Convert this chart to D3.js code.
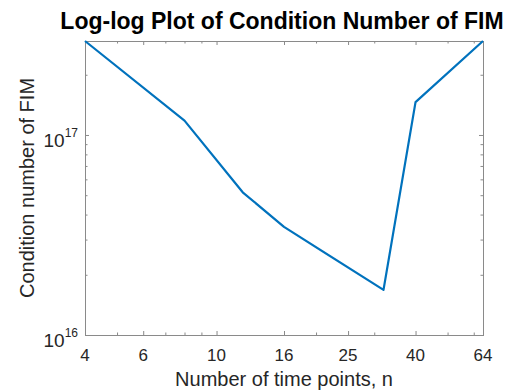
<!DOCTYPE html>
<html>
<head>
<meta charset="utf-8">
<script src="https://cdn.jsdelivr.net/npm/d3@7"></script>
<style>
  html, body { margin: 0; padding: 0; background: #fff; }
  svg { display: block; font-family: "Liberation Sans", Arial, sans-serif; }
</style>
</head>
<body>
<svg id="chart" width="525" height="390"></svg>
<script>
// Number of time points and the condition number of the Fisher information matrix
const timePoints = [4, 8, 12, 16, 32, 40, 64];
const conditionNumbers = [2.95e17, 1.18e17, 5.17e16, 3.47e16, 1.68e16, 1.46e17, 2.95e17];

// Axis ticks
const xMajorTicks = [4, 6, 10, 16, 25, 40, 64];
const xMinorTicks = [5, 7, 8, 9, 20, 30, 50, 60];
const yMajorTicks = [1e16, 1e17];
const yMajorLabels = ["16", "17"];
const yMinorTicks = [2e16, 3e16, 4e16, 5e16, 6e16, 7e16, 8e16, 9e16, 2e17];

const titleText = "Log-log Plot of Condition Number of FIM";
const xLabelText = "Number of time points, n";
const yLabelText = "Condition number of FIM";

const box = { left: 85, right: 483, top: 41, bottom: 335 };
const axisColor = "#8a8a8a";
const lineColor = "#0072BD";

const svg = d3.select("#chart");

const x = d3.scaleLog().domain([4, 64]).range([box.left, box.right]);
const y = d3.scaleLog().domain([1e16, d3.max(conditionNumbers)]).range([box.bottom, box.top]);

// Inward-pointing ticks on all four sides
function styleAxis(g) {
  g.select(".domain").remove();
  g.selectAll(".tick line").attr("stroke", axisColor).attr("stroke-width", 1);
  g.selectAll(".tick text").remove();
}

const sides = [
  { gen: d3.axisBottom, scale: x, pos: `translate(0,${box.bottom})`, major: xMajorTicks, minor: xMinorTicks },
  { gen: d3.axisTop, scale: x, pos: `translate(0,${box.top})`, major: xMajorTicks, minor: xMinorTicks },
  { gen: d3.axisLeft, scale: y, pos: `translate(${box.left},0)`, major: yMajorTicks, minor: yMinorTicks },
  { gen: d3.axisRight, scale: y, pos: `translate(${box.right},0)`, major: yMajorTicks, minor: yMinorTicks }
];
sides.forEach(s => {
  svg.append("g").attr("transform", s.pos)
    .call(s.gen(s.scale).tickValues(s.major).tickSize(-4).tickFormat(""))
    .call(styleAxis);
  svg.append("g").attr("transform", s.pos)
    .call(s.gen(s.scale).tickValues(s.minor).tickSize(-2.5).tickFormat(""))
    .call(styleAxis);
});

// Axes box
svg.append("rect")
  .attr("x", box.left + 0.5).attr("y", box.top + 0.5)
  .attr("width", box.right - box.left).attr("height", box.bottom - box.top)
  .attr("fill", "none").attr("stroke", axisColor).attr("stroke-width", 1);

// X tick labels
svg.append("g").selectAll("text")
  .data(xMajorTicks).join("text")
  .attr("x", d => x(d))
  .attr("y", box.bottom + 26)
  .attr("text-anchor", "middle")
  .attr("font-size", 17)
  .attr("fill", "#262626")
  .text(d => d);

// Y tick labels as powers of ten
const yLabels = svg.append("g").selectAll("text")
  .data(yMajorTicks).join("text")
  .attr("x", box.left - 7)
  .attr("y", d => y(d) + 12)
  .attr("text-anchor", "end")
  .attr("font-size", 19)
  .attr("fill", "#262626");
yLabels.append("tspan").text("10");
yLabels.append("tspan")
  .attr("font-size", 12)
  .attr("dy", -10)
  .text((d, i) => yMajorLabels[i]);

// Data line
const line = d3.line()
  .x((d, i) => x(timePoints[i]))
  .y(d => y(d));
svg.append("path")
  .datum(conditionNumbers)
  .attr("d", line)
  .attr("fill", "none")
  .attr("stroke", lineColor)
  .attr("stroke-width", 2.2)
  .attr("stroke-linejoin", "round");

// Title and axis labels
svg.append("text")
  .attr("x", 282).attr("y", 29)
  .attr("text-anchor", "middle")
  .attr("font-size", 23)
  .attr("font-weight", "bold")
  .attr("fill", "#000")
  .text(titleText);

svg.append("text")
  .attr("x", (box.left + box.right) / 2).attr("y", 386)
  .attr("text-anchor", "middle")
  .attr("font-size", 20)
  .attr("fill", "#262626")
  .text(xLabelText);

svg.append("text")
  .attr("transform", `translate(34,${(box.top + box.bottom) / 2}) rotate(-90)`)
  .attr("text-anchor", "middle")
  .attr("font-size", 20)
  .attr("fill", "#262626")
  .text(yLabelText);
</script>
</body>
</html>
